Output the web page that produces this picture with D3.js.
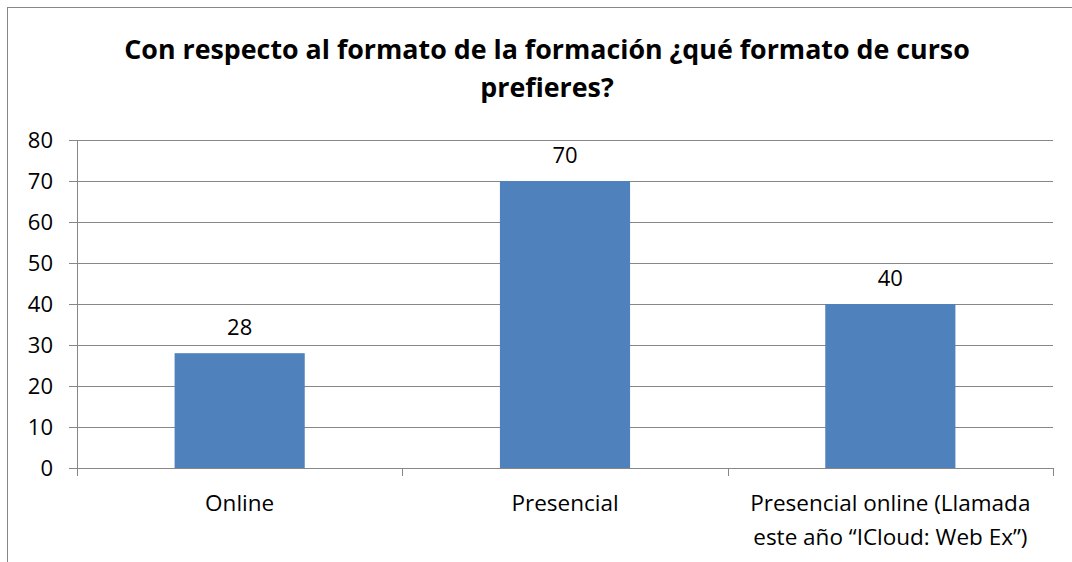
<!DOCTYPE html>
<html><head><meta charset="utf-8">
<script src="https://cdn.jsdelivr.net/npm/d3@7"></script>
<style>body{margin:0;background:#fff}svg{display:block}text{font-family:"Open Sans","Liberation Sans",sans-serif}</style>
</head><body><svg id="c" width="1072" height="562"></svg>
<script>
const categories = ["Online", "Presencial", "Presencial online (Llamada|este año “ICloud: Web Ex”)"];
const values = [28, 70, 40];
const yTicks = [0, 10, 20, 30, 40, 50, 60, 70, 80];
const titleLines = ["Con respecto al formato de la formación ¿qué formato de curso", "prefieres?"];

const svg = d3.select("#c");
const m = {l: 77, r: 1053, t: 140, b: 468};
svg.append("rect").attr("x", 7.5).attr("y", 7.5).attr("width", 1080).attr("height", 600)
  .attr("fill", "none").attr("stroke", "#878787").attr("stroke-width", 1);

const x = d3.scaleBand().domain(categories).range([m.l, m.r]).paddingInner(0.6).paddingOuter(0.3);
const y = d3.scaleLinear().domain([0, 80]).range([m.b, m.t]);

// gridlines
svg.append("g").selectAll("line").data(yTicks).join("line")
  .attr("x1", m.l - 8).attr("x2", m.r).attr("y1", d => y(d) + 0.5).attr("y2", d => y(d) + 0.5)
  .attr("stroke", "#878787").attr("stroke-width", 1);
// y axis line
svg.append("line").attr("x1", m.l + 0.5).attr("x2", m.l + 0.5).attr("y1", m.t).attr("y2", m.b + 8)
  .attr("stroke", "#878787");
// category ticks
const step = (m.r - m.l) / categories.length;
svg.append("g").selectAll("line").data(d3.range(categories.length + 1)).join("line")
  .attr("x1", i => Math.round(m.l + i * step) + 0.5).attr("x2", i => Math.round(m.l + i * step) + 0.5)
  .attr("y1", m.b).attr("y2", m.b + 8).attr("stroke", "#878787");

// bars
svg.append("g").selectAll("rect").data(values).join("rect")
  .attr("x", (d, i) => x(categories[i])).attr("width", x.bandwidth())
  .attr("y", d => y(d)).attr("height", d => y(0) - y(d)).attr("fill", "#4F81BD");
svg.append("line").attr("x1", m.l).attr("x2", m.r).attr("y1", m.b + 0.5).attr("y2", m.b + 0.5).attr("stroke", "#878787");

// value labels
svg.append("g").selectAll("text").data(values).join("text")
  .attr("x", (d, i) => x(categories[i]) + x.bandwidth() / 2).attr("y", d => y(d) - 18)
  .attr("text-anchor", "middle").attr("font-size", 22).attr("fill", "#000").text(d => d);

// y tick labels
svg.append("g").selectAll("text").data(yTicks).join("text")
  .attr("x", 53).attr("y", d => y(d) + 8).attr("text-anchor", "end")
  .attr("font-size", 22).attr("fill", "#000").text(d => d);

// category labels
categories.forEach((c, i) => {
  const lines = c.split("|");
  const t = svg.append("text").attr("text-anchor", "middle").attr("font-size", 22.5).attr("fill", "#000");
  lines.forEach((ln, j) => t.append("tspan").attr("x", x(c) + x.bandwidth() / 2).attr("y", 511 + j * 34).text(ln));
});

// title
const tt = svg.append("text").attr("text-anchor", "middle").attr("font-size", 26.8).attr("font-weight", "bold").attr("fill", "#000");
titleLines.forEach((ln, j) => tt.append("tspan").attr("x", 547).attr("y", 59 + j * 38).text(ln));
</script></body></html>
